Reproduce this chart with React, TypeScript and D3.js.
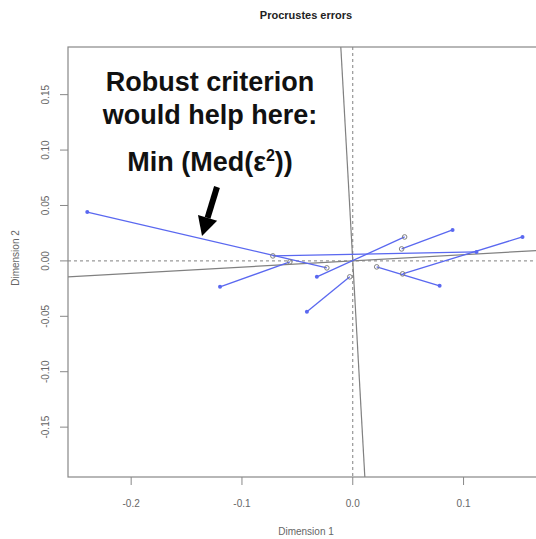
import React from 'react';
import * as d3 from 'd3';

// target configuration (open grey circles)
const targetX = [-0.0234, -0.0721, -0.0568, 0.0468, -0.0027, 0.0441, 0.0216, 0.045];
const targetY = [-0.0063, 0.0045, -0.0009, 0.0216, -0.0144, 0.0108, -0.0054, -0.0117];
// rotated configuration (blue dots)
const rotatedX = [-0.2396, 0.1117, -0.1198, -0.0324, -0.0414, 0.0901, 0.0784, 0.1532];
const rotatedY = [0.0441, 0.0081, -0.0234, -0.0144, -0.0459, 0.0279, -0.0225, 0.0216];

const xTicks = [-0.2, -0.1, 0.0, 0.1];
const xTickLabels = ['-0.2', '-0.1', '0.0', '0.1'];
const yTicks = [-0.15, -0.1, -0.05, 0.0, 0.05, 0.1, 0.15];
const yTickLabels = ['-0.15', '-0.10', '-0.05', '0.00', '0.05', '0.10', '0.15'];

const rotationDeg = 3.2;
const noteLines = ['Robust criterion', 'would help here:'];

const W = 536;
const H = 539;
const plot = { left: 68, right: 545, top: 47, bottom: 477 };

export default function App() {
  const x = d3.scaleLinear().domain([-0.257, 0.1735]).range([plot.left, plot.right]);
  const y = d3.scaleLinear().domain([-0.195, 0.193]).range([plot.bottom, plot.top]);

  const t = Math.tan((rotationDeg * Math.PI) / 180);
  const line = d3.line<[number, number]>().x((d) => x(d[0])).y((d) => y(d[1]));
  const rotH: [number, number][] = [[-0.4, -0.4 * t], [0.4, 0.4 * t]];
  const rotV: [number, number][] = [[0.4 * t, -0.4], [-0.4 * t, 0.4]];

  const grey = '#808080';
  const blue = '#5a68f0';
  const font = 'Liberation Sans, Arial, sans-serif';

  // arrow pointing to the long segment
  const a0 = [217, 187];
  const a1 = [202, 236];
  const ang = Math.atan2(a1[1] - a0[1], a1[0] - a0[0]);
  const headLen = 19;
  const headW = 10;
  const bx = a1[0] - headLen * Math.cos(ang);
  const by = a1[1] - headLen * Math.sin(ang);
  const px = -Math.sin(ang);
  const py = Math.cos(ang);
  const head = `${a1[0]},${a1[1]} ${bx + headW * px},${by + headW * py} ${bx - headW * px},${by - headW * py}`;

  return (
    <svg width={W} height={H} style={{ position: 'absolute', left: 0, top: 0, background: '#fff' }} fontFamily={font}>
      <defs>
        <clipPath id="plotclip">
          <rect x={plot.left} y={plot.top} width={plot.right - plot.left} height={plot.bottom - plot.top} />
        </clipPath>
      </defs>

      <text x={306} y={19} textAnchor="middle" fontSize={11} fontWeight="bold" fill="#222">
        Procrustes errors
      </text>

      <g clipPath="url(#plotclip)">
        <line x1={x(0)} x2={x(0)} y1={plot.top} y2={plot.bottom} stroke={grey} strokeDasharray="3,3" />
        <line x1={plot.left} x2={plot.right} y1={y(0)} y2={y(0)} stroke={grey} strokeDasharray="3,3" />
        <path d={line(rotH) || ''} stroke={grey} strokeWidth={1.2} fill="none" />
        <path d={line(rotV) || ''} stroke={grey} strokeWidth={1.2} fill="none" />

        {targetX.map((tx, i) => (
          <line
            key={'s' + i}
            x1={x(tx)}
            y1={y(targetY[i])}
            x2={x(rotatedX[i])}
            y2={y(rotatedY[i])}
            stroke={blue}
            strokeWidth={1.3}
          />
        ))}
        {targetX.map((tx, i) => (
          <circle key={'g' + i} cx={x(tx)} cy={y(targetY[i])} r={2.3} fill="none" stroke={grey} strokeWidth={1} />
        ))}
        {rotatedX.map((rx, i) => (
          <circle key={'b' + i} cx={x(rx)} cy={y(rotatedY[i])} r={2} fill={blue} />
        ))}
      </g>

      <rect
        x={plot.left}
        y={plot.top}
        width={plot.right - plot.left}
        height={plot.bottom - plot.top}
        fill="none"
        stroke="#888"
        strokeWidth={1.2}
      />

      {xTicks.map((v, i) => (
        <g key={'xt' + i}>
          <line x1={x(v)} x2={x(v)} y1={plot.bottom} y2={plot.bottom + 8} stroke="#888" />
          <text x={x(v)} y={plot.bottom + 30} textAnchor="middle" fontSize={10} fill="#666">
            {xTickLabels[i]}
          </text>
        </g>
      ))}
      {yTicks.map((v, i) => (
        <g key={'yt' + i}>
          <line x1={plot.left - 8} x2={plot.left} y1={y(v)} y2={y(v)} stroke="#888" />
          <text
            transform={`translate(${plot.left - 19},${y(v)}) rotate(-90)`}
            textAnchor="middle"
            fontSize={10}
            fill="#666"
          >
            {yTickLabels[i]}
          </text>
        </g>
      ))}

      <text x={306} y={535} textAnchor="middle" fontSize={10} fill="#666">
        Dimension 1
      </text>
      <text transform={`translate(19,258) rotate(-90)`} textAnchor="middle" fontSize={10} fill="#666">
        Dimension 2
      </text>

      {noteLines.map((s, i) => (
        <text key={'n' + i} x={210} y={91 + i * 33} textAnchor="middle" fontSize={27} fontWeight="bold" fill="#111">
          {s}
        </text>
      ))}
      <text x={210} y={171} textAnchor="middle" fontSize={27} fontWeight="bold" fill="#111">
        Min (Med(ε<tspan dy={-10} fontSize={16}>2</tspan>
        <tspan dy={10}>))</tspan>
      </text>

      <line x1={a0[0]} y1={a0[1]} x2={bx} y2={by} stroke="#000" strokeWidth={6} />
      <polygon points={head} fill="#000" />
    </svg>
  );
}
